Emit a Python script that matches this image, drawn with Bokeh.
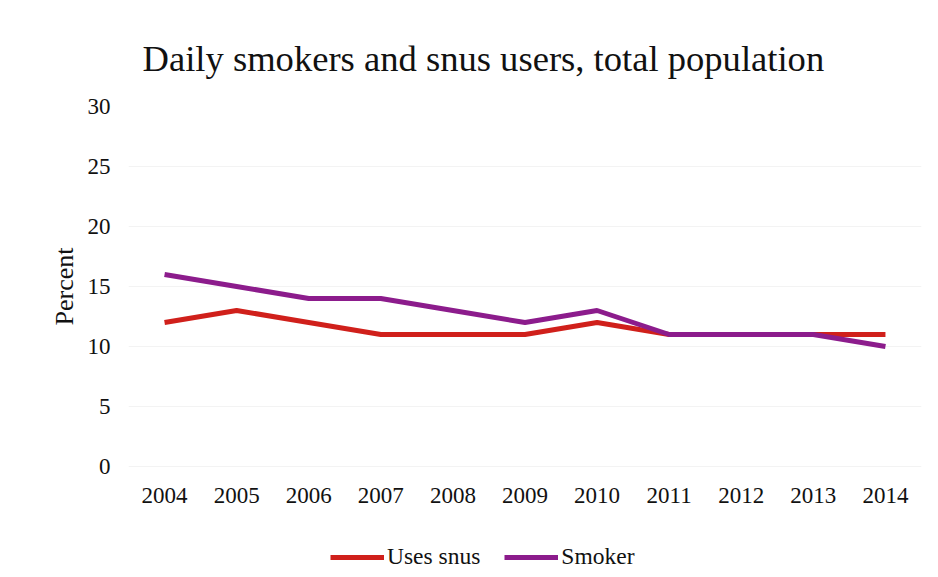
from bokeh.plotting import figure
from bokeh.models import ColumnDataSource, Legend, LegendItem, Range1d, FixedTicker, Title
from bokeh.embed import file_html
from bokeh.resources import INLINE

years = [2004, 2005, 2006, 2007, 2008, 2009, 2010, 2011, 2012, 2013, 2014]
snus = [12, 13, 12, 11, 11, 11, 12, 11, 11, 11, 11]
smoker = [16, 15, 14, 14, 13, 12, 13, 11, 11, 11, 10]
y_ticks = [0, 5, 10, 15, 20, 25, 30]

FONT = "Liberation Serif"
RED = "#d0201b"
PURPLE = "#8c1c8c"

# frame extends to the bottom of the canvas so the legend can sit inside it;
# 12 px per percent, zero at y=466 px
p = figure(width=938, height=577, output_backend="svg", toolbar_location=None,
           x_range=Range1d(2003.5, 2014.5), y_range=Range1d(-9.25, 30),
           min_border_left=128, min_border_right=17, min_border_top=106,
           min_border_bottom=0)
p.outline_line_color = None
p.background_fill_color = "white"

p.title.text = "Daily smokers and snus users, total population"
p.title.text_font = FONT
p.title.text_font_size = "36.6px"
p.title.text_font_style = "normal"
p.title.text_color = "#111111"
p.title.align = "left"
p.title.offset = 14
p.title.standoff = 55

source = ColumnDataSource(dict(x=years, snus=snus, smoker=smoker))
r1 = p.line("x", "snus", source=source, line_color=RED, line_width=5)
r2 = p.line("x", "smoker", source=source, line_color=PURPLE, line_width=5)

p.xaxis.ticker = FixedTicker(ticks=years)
p.xaxis.fixed_location = 0
p.yaxis.ticker = FixedTicker(ticks=y_ticks)
for ax in (p.xaxis[0], p.yaxis[0]):
    ax.axis_line_color = None
    ax.major_tick_line_color = None
    ax.minor_tick_line_color = None
    ax.major_label_text_font = FONT
    ax.major_label_text_font_size = "23px"
    ax.major_label_text_color = "#111111"
p.xaxis.major_label_standoff = 15
p.yaxis.major_label_standoff = 12

ylabel = Title(text="Percent", text_font=FONT, text_font_size="26px",
               text_font_style="normal", text_color="#111111",
               align="right", offset=141, standoff=12)
p.add_layout(ylabel, "left")

p.xgrid.grid_line_color = None
p.ygrid.grid_line_color = "#f3f3f3"
p.ygrid.grid_line_width = 1

legend = Legend(items=[LegendItem(label="Uses snus", renderers=[r1]),
                       LegendItem(label="Smoker", renderers=[r2])],
                orientation="horizontal", location=(202, 7),
                glyph_width=54, glyph_height=20, spacing=24, label_standoff=3,
                label_text_font=FONT, label_text_font_size="23.5px",
                label_text_color="#111111", border_line_color=None,
                background_fill_alpha=0, padding=0, margin=0)
p.add_layout(legend, "center")

open("out.html", "w").write(file_html(p, INLINE))
